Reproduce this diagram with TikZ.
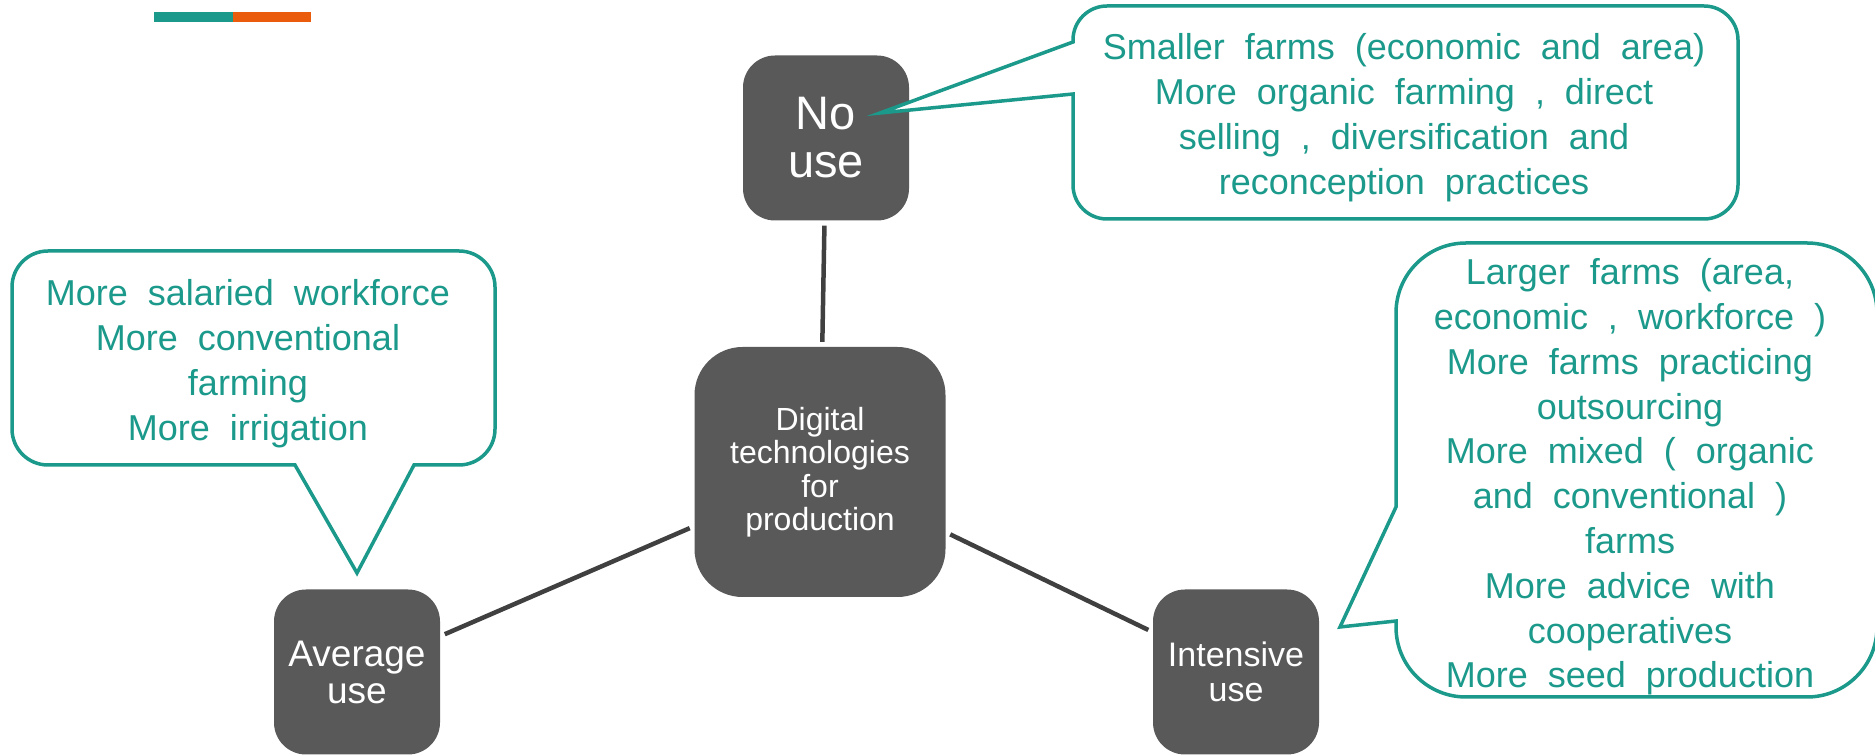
\documentclass[tikz,border=0pt]{standalone}
\usepackage{fontspec}
\setmainfont{Liberation Sans}
\newfontfamily\notefont{Liberation Sans}[WordSpace=2]
\usetikzlibrary{shapes}
\usetikzlibrary{arrows}

\definecolor{tealgreen}{HTML}{1B998B}
\definecolor{barorange}{HTML}{EA5B0C}
\definecolor{boxgray}{HTML}{595959}
\definecolor{linkgray}{HTML}{404040}

\begin{document}
\begin{tikzpicture}[x=1pt,y=1pt]
			\tikzstyle{usebox}=[rectangle,rounded corners=32pt,fill=boxgray,text=white,align=center,minimum width=166pt,minimum height=165pt,inner sep=0pt]
			\tikzstyle{link}=[draw=linkgray,line width=4.5pt,shorten >=5pt,shorten <=5pt]
			\tikzstyle{callout}=[draw=tealgreen,line width=3.5pt,fill=white]
			\tikzstyle{note}=[text=tealgreen,align=center,inner sep=0pt,font=\notefont\fontsize{36}{44.8}\selectfont]

			\useasboundingbox (0,0) rectangle (1875,755);
			\fill[tealgreen] (154,733) rectangle (233,743);
			\fill[barorange] (233,733) rectangle (311,743);

			\node[usebox,minimum width=251pt,minimum height=250pt,rounded corners=48pt,font=\fontsize{32}{33.5}\selectfont] (digital) at (820,283) {Digital\\technologies\\for\\production};
			\node[usebox,font=\fontsize{47}{48}\selectfont] (nouse) at (826,617) {No\\use};
			\node[usebox,font=\fontsize{37}{37}\selectfont] (average) at (357,83) {Average\\use};
			\node[usebox,font=\fontsize{34}{35}\selectfont] (intensive) at (1236,83) {Intensive\\use};

			\draw[link] (nouse) -- (digital);
			\draw[link] (digital) -- (average);
			\draw[link] (digital) -- (intensive);

			% callouts
			\coordinate (nouse tip) at (880,642);
			\coordinate (average tip) at (357,182);
			\coordinate (intensive tip) at (1340,128);
			\draw[callout] (1073,713) -- (1073,715) arc[start angle=180,end angle=90,radius=34] -- (1704,749) arc[start angle=90,end angle=0,radius=34] -- (1738,570) arc[start angle=0,end angle=-90,radius=34] -- (1107,536) arc[start angle=270,end angle=180,radius=34] -- (1073,661) -- (nouse tip) -- cycle;
			\draw[callout] (48,504) -- (459,504) arc[start angle=90,end angle=0,radius=36] -- (495,326) arc[start angle=0,end angle=-90,radius=36] -- (414,290) -- (average tip) -- (295,290) -- (48,290) arc[start angle=270,end angle=180,radius=36] -- (12,468) arc[start angle=180,end angle=90,radius=36] -- cycle;
			\draw[callout] (1396,248) -- (1396,442) arc[start angle=180,end angle=90,radius=70] -- (1807,512) arc[start angle=90,end angle=0,radius=70] -- (1877,128) arc[start angle=0,end angle=-90,radius=70] -- (1466,58) arc[start angle=270,end angle=180,radius=70] -- (1396,134) -- (intensive tip) -- cycle;

			\node[note] (nouse note) at (1404,637.5) {Smaller farms (economic and area)\\More organic farming , direct\\selling , diversification and\\reconception practices};
			\node[note] (average note) at (248,391.5) {More salaried workforce\\More conventional\\farming\\More irrigation};
			\node[note] (intensive note) at (1630,278) {Larger farms (area,\\economic , workforce )\\More farms practicing\\outsourcing\\More mixed ( organic\\and conventional )\\farms\\More advice with\\cooperatives\\More seed production};
\end{tikzpicture}
\end{document}
